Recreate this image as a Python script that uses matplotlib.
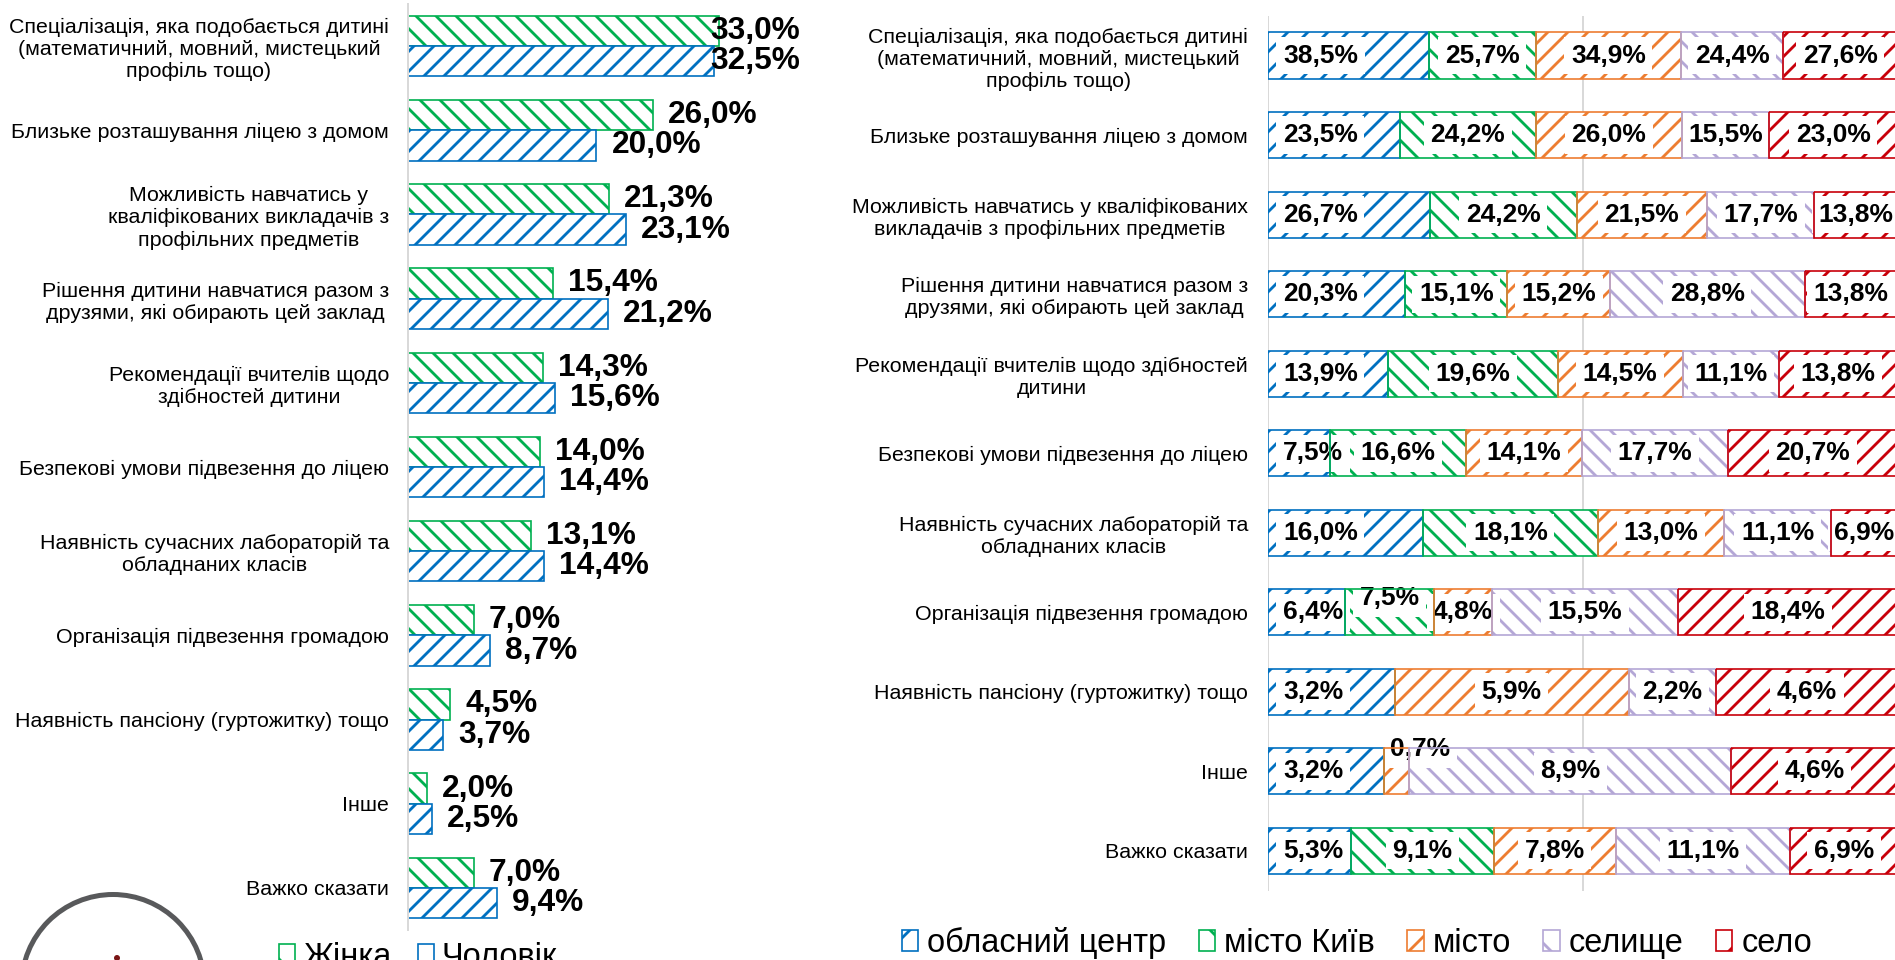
import numpy as np
import matplotlib
matplotlib.use("Agg")
import matplotlib.pyplot as plt
from matplotlib.patches import Patch, Circle

plt.rcParams['font.family'] = ['Liberation Sans', 'DejaVu Sans']
plt.rcParams['hatch.linewidth'] = 1.7

DPI = 120
W, H = 1895, 960
PX = 72 / DPI  # pixels -> points

# --- стать ---
gender_labels = [
    "Спеціалізація, яка подобається дитині\n(математичний, мовний, мистецький\nпрофіль тощо)",
    "Близьке розташування ліцею з домом",
    "Можливість навчатись у\nкваліфікованих викладачів з\nпрофільних предметів",
    "Рішення дитини навчатися разом з\nдрузями, які обирають цей заклад",
    "Рекомендації вчителів щодо\nздібностей дитини",
    "Безпекові умови підвезення до ліцею",
    "Наявність сучасних лабораторій та\nобладнаних класів",
    "Організація підвезення громадою",
    "Наявність пансіону (гуртожитку) тощо",
    "Інше",
    "Важко сказати",
]
female = [33.0, 26.0, 21.3, 15.4, 14.3, 14.0, 13.1, 7.0, 4.5, 2.0, 7.0]
male = [32.5, 20.0, 23.1, 21.2, 15.6, 14.4, 14.4, 8.7, 3.7, 2.5, 9.4]

# --- тип населеного пункту ---
place_labels = [
    "Спеціалізація, яка подобається дитині\n(математичний, мовний, мистецький\nпрофіль тощо)",
    "Близьке розташування ліцею з домом",
    "Можливість навчатись у кваліфікованих\nвикладачів з профільних предметів",
    "Рішення дитини навчатися разом з\nдрузями, які обирають цей заклад",
    "Рекомендації вчителів щодо здібностей\nдитини",
    "Безпекові умови підвезення до ліцею",
    "Наявність сучасних лабораторій та\nобладнаних класів",
    "Організація підвезення громадою",
    "Наявність пансіону (гуртожитку) тощо",
    "Інше",
    "Важко сказати",
]
place_names = ["обласний центр", "місто Київ", "місто", "селище", "село"]
oblast_center = [38.5, 23.5, 26.7, 20.3, 13.9, 7.5, 16.0, 6.4, 3.2, 3.2, 5.3]
kyiv = [25.7, 24.2, 24.2, 15.1, 19.6, 16.6, 18.1, 7.5, 0, 0, 9.1]
city = [34.9, 26.0, 21.5, 15.2, 14.5, 14.1, 13.0, 4.8, 5.9, 0.7, 7.8]
township = [24.4, 15.5, 17.7, 28.8, 11.1, 17.7, 11.1, 15.5, 2.2, 8.9, 11.1]
village = [27.6, 23.0, 13.8, 13.8, 13.8, 20.7, 6.9, 18.4, 4.6, 4.6, 6.9]

BLUE = "#0070C0"
GREEN = "#00B050"
ORANGE = "#ED7D31"
LAVENDER = "#B4A7D6"
RED = "#C8000A"
GRID = "#D9D9D9"

place_colors = [BLUE, GREEN, ORANGE, LAVENDER, RED]
place_hatch = ["//", "\\\\", "//", "\\\\", "//"]

CAT_SIZE = 12.8


def fmt(v):
    return f"{v:.1f}%".replace(".", ",")


fig = plt.figure(figsize=(W / DPI, H / DPI), dpi=DPI)

# ---------------- ліва діаграма: жінка / чоловік ----------------
ax1 = fig.add_axes([408 / W, 1 - 930 / H, 392 / W, 926 / H])
y = np.arange(len(gender_labels))
bh = 0.36
ax1.barh(y - bh / 2, female, height=bh, color="white", edgecolor=GREEN,
         hatch="\\\\", lw=1.0)
ax1.barh(y + bh / 2, male, height=bh, color="white", edgecolor=BLUE,
         hatch="//", lw=1.0)
xmax = 41.6
ax1.set_xlim(0, xmax)
ax1.set_ylim(len(y) - 0.5, -0.5)

for vals, dy in ((female, -bh / 2), (male, bh / 2)):
    for i, v in enumerate(vals):
        if v > 30:
            ax1.text(xmax, i + dy, fmt(v), ha="right", va="center",
                     fontsize=19, fontweight="bold", clip_on=False)
        else:
            ax1.annotate(fmt(v), (v, i + dy), xytext=(15 * PX, 0),
                         textcoords="offset points", ha="left", va="center",
                         fontsize=19, fontweight="bold", annotation_clip=False)

ax1.set_yticks(y, gender_labels)
for t in ax1.get_yticklabels():
    t.set_multialignment("center")
    t.set_linespacing(1.2)
ax1.tick_params(axis="y", length=0, labelsize=CAT_SIZE, pad=19 * PX)
ax1.tick_params(axis="x", length=0, labelbottom=False)
for s in ("top", "right", "bottom"):
    ax1.spines[s].set_visible(False)
ax1.spines["left"].set_color(GRID)
ax1.spines["left"].set_linewidth(1.2)

handles1 = [Patch(facecolor="white", edgecolor=GREEN, hatch="\\", lw=1.0),
            Patch(facecolor="white", edgecolor=BLUE, hatch="/", lw=1.0)]
fig.legend(handles1, ["Жінка", "Чоловік"], loc="center",
           bbox_to_anchor=(418 / W, 1 - 957 / H), ncol=2, frameon=False,
           fontsize=19.5, handlelength=0.5, handleheight=0.6,
           handletextpad=0.25, columnspacing=0.8, borderpad=0,
           borderaxespad=0)

# ---------------- права діаграма: тип населеного пункту ----------------
ax2 = fig.add_axes([1268 / W, 1 - 890.5 / H, 630 / W, 874.7 / H])
data = np.array([oblast_center, kyiv, city, township, village], dtype=float)
shares = data / data.sum(axis=0)
y2 = np.arange(len(place_labels))
left = np.zeros(len(y2))
bh2 = 0.58

# зсуви підписів (px), які в оригіналі винесені над смугою
label_shift = {(7, 1): (0, 14), (9, 2): (24, 22)}
lbl_style = dict(fontsize=15.8, fontweight="bold", zorder=3, va="center",
                 textcoords="offset points",
                 bbox=dict(boxstyle="square,pad=0.25", fc="white", ec="none"))

for k in range(len(place_names)):
    ax2.barh(y2, shares[k], left=left, height=bh2, color="white",
             edgecolor=place_colors[k], hatch=place_hatch[k], lw=0, zorder=2)
    ax2.barh(y2, shares[k], left=left, height=bh2, fill=False,
             edgecolor=place_colors[k], lw=1.0, zorder=4)
    for i in range(len(y2)):
        v = data[k, i]
        if v <= 0:
            continue
        if k == 0:
            # перша серія підписана біля основи смуги
            ax2.annotate(fmt(v), (0, i), xytext=(15 * PX, 0), ha="left",
                         **lbl_style)
            continue
        dx, dy = label_shift.get((i, k), (0, 0))
        ax2.annotate(fmt(v), (left[i] + shares[k, i] / 2, i),
                     xytext=(dx * PX, dy * PX), ha="center", **lbl_style)
    left += shares[k]

ax2.set_xlim(0, 1)
ax2.set_ylim(len(y2) - 0.5, -0.5)
ax2.set_xticks([0, 0.5, 1])
ax2.xaxis.grid(True, color=GRID, lw=1.2)
ax2.set_axisbelow(True)
ax2.set_yticks(y2, place_labels)
for t in ax2.get_yticklabels():
    t.set_multialignment("center")
    t.set_linespacing(1.2)
ax2.tick_params(axis="y", length=0, labelsize=CAT_SIZE, pad=20 * PX)
ax2.tick_params(axis="x", length=0, labelbottom=False)
for s in ax2.spines.values():
    s.set_visible(False)

handles2 = [Patch(facecolor="white", edgecolor=c, hatch=h[0], lw=1.0)
            for c, h in zip(place_colors, place_hatch)]
fig.legend(handles2, place_names, loc="center",
           bbox_to_anchor=(1357 / W, 1 - 943 / H), ncol=5, frameon=False,
           fontsize=19.5, handlelength=0.5, handleheight=0.6,
           handletextpad=0.28, columnspacing=1.0, borderpad=0,
           borderaxespad=0)

# логотип у лівому нижньому куті (обрізаний краєм)
logo = Circle((113 / DPI, (H - 986) / DPI), 91.5 / DPI, transform=fig.dpi_scale_trans,
              fill=False, ec="#58595B", lw=5 * PX, clip_on=False)
fig.add_artist(logo)
fig.add_artist(Circle((117 / DPI, (H - 958) / DPI), 3 / DPI,
                      transform=fig.dpi_scale_trans, fc="#7A1515", ec="none",
                      clip_on=False))

fig.savefig("out.png", dpi=DPI)
